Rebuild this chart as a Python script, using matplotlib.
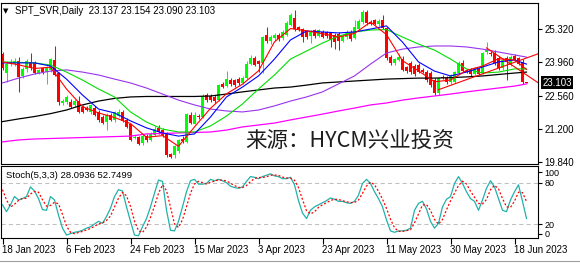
import numpy as np
import matplotlib
matplotlib.use("Agg")
import matplotlib.pyplot as plt
from matplotlib.transforms import blended_transform_factory

plt.rcParams['font.family'] = ['Liberation Sans', 'DejaVu Sans']

# daily bars 18 Jan 2023 .. 21 Jun 2023 (broker has sunday bars)
opens = [24.30, 23.52, 23.88, 23.88, 24.00, 23.38, 23.66, 23.98, 23.92, 23.52,
         23.70, 23.55, 23.62, 24.05, 23.50, 22.28, 22.30, 22.32, 22.20, 22.35,
         22.12, 22.08, 21.88, 22.08, 21.90, 21.70, 21.50, 21.78, 21.58, 21.74,
         21.88, 21.55, 21.38, 20.82, 20.86, 20.62, 20.90, 20.72, 20.95, 21.25,
         21.15, 21.02, 20.15, 20.10, 20.30, 20.78, 20.65, 21.78, 21.42, 21.75,
         21.70, 22.60, 22.55, 22.50, 22.38, 23.05, 22.98, 23.22, 23.22, 23.25,
         23.10, 23.30, 23.88, 24.15, 24.00, 23.92, 25.10, 24.82, 24.95, 25.08,
         24.95, 25.10, 25.50, 25.78, 25.40, 25.32, 25.25, 25.05, 25.30, 25.05,
         25.22, 25.20, 25.15, 25.10, 25.12, 24.85, 25.00, 25.20, 24.98, 25.35,
         25.62, 26.02, 25.62, 25.70, 25.52, 25.70, 25.38, 24.18, 23.92, 24.05,
         24.10, 23.75, 23.92, 23.82, 23.85, 23.62, 23.55, 23.50, 23.22, 22.70,
         23.35, 23.30, 23.12, 23.15, 23.50, 23.92, 23.60, 23.62, 23.48, 23.68,
         23.50, 24.38, 24.35, 24.35, 24.15, 23.72, 24.12, 23.85, 24.20, 24.12,
         23.98, 23.137]
highs = [24.40, 24.00, 24.08, 24.12, 24.18, 23.75, 24.10, 24.35, 24.00, 23.68,
         23.78, 23.82, 24.12, 24.63, 23.55, 22.45, 22.60, 22.45, 22.42, 22.55,
         22.18, 22.15, 22.22, 22.15, 21.98, 21.78, 21.85, 21.85, 21.92, 22.02,
         21.98, 21.65, 21.42, 20.95, 20.92, 20.98, 21.00, 21.08, 21.30, 21.35,
         21.22, 21.05, 20.22, 20.55, 20.80, 20.92, 21.85, 21.88, 21.90, 21.82,
         22.65, 22.70, 22.65, 22.62, 23.05, 23.15, 23.58, 23.30, 23.28, 23.35,
         23.40, 24.00, 24.25, 24.22, 24.05, 25.05, 25.40, 25.10, 25.15, 25.15,
         25.30, 25.65, 26.00, 26.12, 25.45, 25.38, 25.30, 25.30, 25.35, 25.35,
         25.28, 25.25, 25.22, 25.18, 25.20, 25.12, 25.28, 25.30, 25.70, 25.75,
         26.12, 26.12, 25.70, 25.75, 25.75, 25.92, 25.42, 24.25, 24.15, 24.30,
         24.20, 23.82, 24.00, 23.88, 23.92, 23.70, 23.62, 23.58, 23.30, 23.35,
         23.42, 23.40, 23.48, 23.60, 24.00, 24.05, 23.68, 23.70, 23.78, 23.75,
         24.40, 24.78, 24.42, 24.45, 24.22, 24.12, 24.20, 24.25, 24.28, 24.18,
         24.10, 23.154]
lows = [23.65, 23.15, 23.80, 23.82, 22.73, 23.30, 23.55, 23.65, 23.45, 23.45,
        23.45, 23.05, 23.55, 23.38, 22.20, 22.20, 22.22, 22.05, 22.12, 21.85,
        21.85, 21.92, 21.80, 21.72, 21.50, 21.40, 21.15, 21.52, 21.50, 21.70,
        21.48, 21.22, 20.70, 20.78, 20.52, 20.55, 20.65, 20.68, 20.90, 20.98,
        20.88, 20.05, 19.98, 20.00, 20.22, 20.60, 20.60, 21.40, 21.38, 21.60,
        21.65, 22.30, 22.30, 22.28, 22.35, 22.88, 22.92, 22.98, 22.95, 23.00,
        23.05, 23.25, 23.85, 23.80, 23.55, 23.50, 24.75, 24.70, 24.85, 24.85,
        24.88, 25.05, 25.45, 25.25, 25.25, 24.80, 24.92, 24.75, 24.98, 25.00,
        24.95, 24.98, 24.60, 24.50, 24.48, 24.80, 24.92, 24.85, 24.92, 25.30,
        25.55, 25.50, 25.48, 25.48, 25.45, 25.32, 24.05, 23.85, 23.85, 24.00,
        23.60, 23.50, 23.45, 23.40, 23.50, 23.50, 23.15, 22.95, 22.62, 22.62,
        23.25, 23.05, 23.05, 23.10, 23.45, 23.55, 23.50, 23.40, 23.42, 23.42,
        23.45, 24.30, 24.20, 23.85, 23.65, 23.65, 23.22, 23.80, 24.00, 23.85,
        23.05, 23.090]
closes = [23.70, 23.90, 23.98, 24.02, 23.35, 23.68, 24.00, 23.72, 23.52, 23.62,
          23.55, 23.75, 24.08, 23.42, 22.30, 22.34, 22.52, 22.12, 22.36, 21.90,
          21.90, 21.98, 22.18, 21.78, 21.55, 21.45, 21.78, 21.58, 21.88, 21.90,
          21.52, 21.28, 20.75, 20.86, 20.58, 20.90, 20.72, 21.00, 21.20, 21.05,
          20.95, 20.12, 20.05, 20.50, 20.72, 20.70, 21.80, 21.45, 21.78, 21.68,
          22.58, 22.38, 22.38, 22.35, 23.00, 22.95, 23.25, 23.05, 23.02, 23.10,
          23.30, 23.88, 24.15, 23.85, 23.88, 25.00, 24.82, 25.00, 25.08, 24.92,
          25.22, 25.58, 25.92, 25.32, 25.32, 25.00, 25.00, 25.22, 25.05, 25.28,
          25.00, 25.05, 24.88, 24.80, 24.85, 25.05, 25.20, 24.92, 25.40, 25.68,
          26.05, 25.58, 25.55, 25.55, 25.68, 25.38, 24.15, 23.92, 24.10, 24.18,
          23.65, 23.60, 23.55, 23.48, 23.55, 23.55, 23.22, 23.02, 22.68, 23.30,
          23.30, 23.12, 23.42, 23.55, 23.92, 23.60, 23.55, 23.45, 23.72, 23.48,
          24.35, 24.48, 24.28, 23.92, 23.72, 24.05, 23.98, 24.18, 24.05, 23.90,
          23.15, 23.103]

# moving averages every 4th bar
ma_idx = [0, 4, 8, 12, 16, 20, 24, 28, 32, 36, 40, 44, 48, 52, 56, 60, 64,
          68, 72, 76, 80, 84, 88, 92, 96, 100, 104, 108, 112, 116, 120, 124, 128, 131]
ma_red = [23.97, 23.85, 23.70, 23.75, 22.85, 22.12, 21.86, 21.67, 21.42, 20.85,
          20.92, 20.48, 21.28, 22.05, 22.65, 23.05, 23.60, 24.80, 25.35, 25.26,
          25.14, 25.00, 25.15, 25.62, 25.10, 24.02, 23.60, 23.15, 23.22, 23.62,
          23.80, 24.10, 24.05, 23.66]
ma_blue = [23.93, 23.93, 23.93, 23.80, 23.26, 22.60, 22.02, 21.86, 21.53, 21.24,
           21.03, 20.90, 20.99, 21.69, 22.52, 22.93, 23.39, 24.09, 24.88, 25.25,
           25.21, 25.17, 25.21, 25.33, 25.46, 24.79, 23.97, 23.59, 23.39, 23.55,
           23.76, 23.97, 24.05, 23.88]
ma_green = [23.97, 23.95, 23.93, 23.84, 23.55, 23.22, 22.85, 22.52, 21.90, 21.48,
            21.19, 21.07, 21.07, 21.32, 21.73, 22.23, 22.85, 23.43, 24.09, 24.42,
            24.75, 25.04, 25.21, 25.29, 25.31, 25.00, 24.71, 24.46, 24.09, 23.68,
            23.51, 23.55, 23.68, 23.68]
ma_purple = [23.10, 23.30, 23.47, 23.59, 23.64, 23.55, 23.43, 23.26, 23.10, 22.89,
             22.64, 22.39, 22.19, 22.02, 21.94, 21.90, 21.98, 22.15, 22.35, 22.52,
             22.73, 23.06, 23.39, 23.88, 24.34, 24.50, 24.59, 24.63, 24.63, 24.59,
             24.50, 24.38, 24.26, 24.17]
ma_black = [21.50, 21.61, 21.71, 21.83, 21.98, 22.19, 22.35, 22.46, 22.52, 22.54,
            22.54, 22.54, 22.54, 22.56, 22.64, 22.73, 22.81, 22.89, 22.93, 23.01,
            23.10, 23.14, 23.18, 23.22, 23.26, 23.28, 23.30, 23.30, 23.32, 23.35,
            23.39, 23.45, 23.51, 23.55]
ma_magenta = [20.66, 20.74, 20.78, 20.80, 20.82, 20.84, 20.86, 20.88, 20.90, 20.99,
              21.01, 21.03, 21.05, 21.07, 21.15, 21.28, 21.36, 21.44, 21.57, 21.69,
              21.81, 21.94, 22.06, 22.19, 22.27, 22.39, 22.48, 22.56, 22.64, 22.73,
              22.81, 22.89, 22.97, 23.06]

# triangle trend lines
trend_a_idx = [109, 133.8]
trend_a_px = [22.82, 24.30]
trend_b_idx = [121, 133.8]
trend_b_px = [24.55, 23.12]

stoch_k = [48, 38, 48, 60, 55, 57, 60, 74, 68, 57, 41, 40, 60, 55, 33, 14, 4, 6, 8, 9,
           11, 14, 16, 20, 24, 21, 31, 43, 60, 70, 68, 45, 24, 4, 3, 16, 28, 45, 65, 84,
           82, 40, 11, 10, 24, 45, 67, 83, 85, 78, 78, 79, 85, 83, 85, 83, 80, 75, 73, 72,
           74, 82, 89, 88, 86, 89, 91, 93, 90, 89, 86, 86, 88, 77, 54, 36, 28, 40, 45, 48,
           51, 54, 58, 56, 53, 53, 51, 50, 53, 62, 79, 85, 79, 67, 57, 45, 26, 10, 8, 10,
           10, 11, 14, 40, 50, 53, 42, 24, 14, 21, 45, 56, 60, 79, 89, 79, 67, 57, 53, 40,
           55, 72, 83, 74, 57, 40, 38, 55, 67, 77, 53, 28.09]
stoch_d = [70, 55, 44.7, 48.7, 54.3, 57.3, 57.3, 63.7, 67.3, 66.3, 55.3, 46, 47, 51.7,
           49.3, 34, 17, 8, 6, 7.7, 9.3, 11.3, 13.7, 16.7, 20, 21.7, 25.3, 31.7, 44.7,
           57.7, 66, 61, 45.7, 24.3, 10.3, 7.7, 15.7, 29.7, 46, 64.7, 77, 68.7, 44.3,
           20.3, 15, 26.3, 45.3, 65, 78.3, 82, 80.3, 78.3, 80.7, 82.3, 84.3, 83.7, 82.7,
           79.3, 76, 73.3, 73, 76, 81.7, 86.3, 87.7, 87.7, 88.7, 91, 91.3, 90.7, 88.3,
           87, 86.7, 83.7, 73, 55.7, 39.3, 34.7, 37.7, 44.3, 48, 51, 54.3, 56, 55.7, 54,
           52.3, 51.3, 51.3, 55, 64.7, 75.3, 81, 77, 67.7, 56.3, 42.7, 27, 14.7, 9.3,
           9.3, 10.3, 11.7, 21.7, 34.7, 47.7, 48.3, 39.7, 26.7, 19.7, 26.7, 40.7, 53.7,
           65, 76, 82.3, 78.3, 67.7, 59, 50, 49.3, 55.7, 70, 76.3, 71.3, 57, 45, 44.3,
           53.3, 66.3, 65.7, 52.75]

date_idx = [0, 16, 32, 48, 64, 80, 96, 112, 128]
date_labels = ['18 Jan 2023', '6 Feb 2023', '24 Feb 2023', '15 Mar 2023', '3 Apr 2023',
               '23 Apr 2023', '11 May 2023', '30 May 2023', '18 Jun 2023']
price_ticks = [19.840, 21.200, 22.560, 23.960, 25.320]
last_price = 23.103

W, H = 580, 265
fig = plt.figure(figsize=(W / 100, H / 100), dpi=100)


def box(x0, y0, x1, y1):
    return [x0 / W, 1 - y1 / H, (x1 - x0) / W, (y1 - y0) / H]


ax = fig.add_axes(box(1, 3, 538, 164))
ax2 = fig.add_axes(box(1, 166, 538, 238))

x = np.arange(len(closes))
o = np.array(opens)
c = np.array(closes)
cols = ['#00ff00' if cc >= oo else '#ff0000' for oo, cc in zip(o, c)]
body_lo = np.minimum(o, c)
body_h = np.maximum(np.abs(c - o), 0.012)

ax.vlines(x, lows, highs, colors=cols, linewidth=0.75, zorder=2)
ax.bar(x, body_h, bottom=body_lo, width=0.75, color=cols, linewidth=0, zorder=2)

ax.plot(ma_idx, ma_magenta, color='#ff00ff', lw=0.9, zorder=3)
ax.plot(ma_idx, ma_black, color='black', lw=0.9, zorder=3)
ax.plot(ma_idx, ma_purple, color='#9933ee', lw=0.8, zorder=3)
ax.plot(ma_idx, ma_green, color='#00e000', lw=0.8, zorder=3)
ax.plot(ma_idx, ma_blue, color='#0000ff', lw=0.8, zorder=3)
ax.plot(ma_idx, ma_red, color='#ff0000', lw=0.8, zorder=3)
ax.plot(trend_a_idx, trend_a_px, color='#ff0000', lw=0.8, zorder=3)
ax.plot(trend_b_idx, trend_b_px, color='#ff0000', lw=0.8, zorder=3)

xmin = -0.375
xmax = xmin + 537 / 4
ax.set_xlim(xmin, xmax)
ax.set_ylim(19.745, 26.409)
ax.set_xticks([])
ax.yaxis.tick_right()
ax.set_yticks(price_ticks)
ax.set_yticklabels(['%.3f' % v for v in price_ticks])
ax.tick_params(axis='y', length=3, width=0.8, pad=1.5, labelsize=7)

tr = blended_transform_factory(ax.transAxes, ax.transData)
ax.text(1 + 4.5 / 537, last_price, '%.3f' % last_price, transform=tr, ha='left', va='center',
        color='white', fontsize=7,
        bbox=dict(boxstyle='square,pad=0.15', fc='black', ec='none'))

# stochastic
ax2.axhline(80, color='#c0c0c0', lw=0.75, ls=(0, (4, 3)))
ax2.axhline(20, color='#c0c0c0', lw=0.75, ls=(0, (4, 3)))
ax2.plot(x, stoch_k, color='#20b2aa', lw=0.9)
ax2.plot(x, stoch_d, color='#ff0000', lw=0.9, ls=(0, (1.6, 1.6)))
ax2.set_xlim(xmin, xmax)
ax2.set_ylim(-0.3, 104.4)
ax2.yaxis.tick_right()
ax2.set_yticks([95, 80, 20, 6])
ax2.set_yticklabels(['100', '80', '20', '0'])
ax2.tick_params(axis='y', length=3, width=0.8, pad=1.5, labelsize=6.5)
ax2.set_xticks(date_idx)
ax2.set_xticklabels(date_labels)
ax2.tick_params(axis='x', length=4, width=0.8, pad=1, labelsize=7)
for lbl in ax2.get_xticklabels():
    lbl.set_horizontalalignment('left')

for a in (ax, ax2):
    for s in a.spines.values():
        s.set_linewidth(0.8)
        s.set_color('black')

fig.text(3 / W, 1 - 11 / H, '\u25bc', fontsize=5, va='center', ha='left', family=['DejaVu Sans'])
fig.text(15 / W, 1 - 11 / H, 'SPT_SVR,Daily  23.137 23.154 23.090 23.103',
         fontsize=7, va='center', ha='left')
fig.text(6 / W, 1 - 175 / H, 'Stoch(5,3,3) 28.0936 52.7499', fontsize=6.8, va='center', ha='left')
fig.text(245 / W, 1 - 142 / H, '来源：HYCM兴业投资', fontsize=15.5, va='center', ha='left',
         family=['Noto Sans CJK SC', 'DejaVu Sans'], color='#1e1e1e')

fig.add_artist(plt.Line2D([0, 1], [1 - 261 / H] * 2, color='#a0a0a0', lw=0.8))

fig.savefig('out.png', dpi=100)
